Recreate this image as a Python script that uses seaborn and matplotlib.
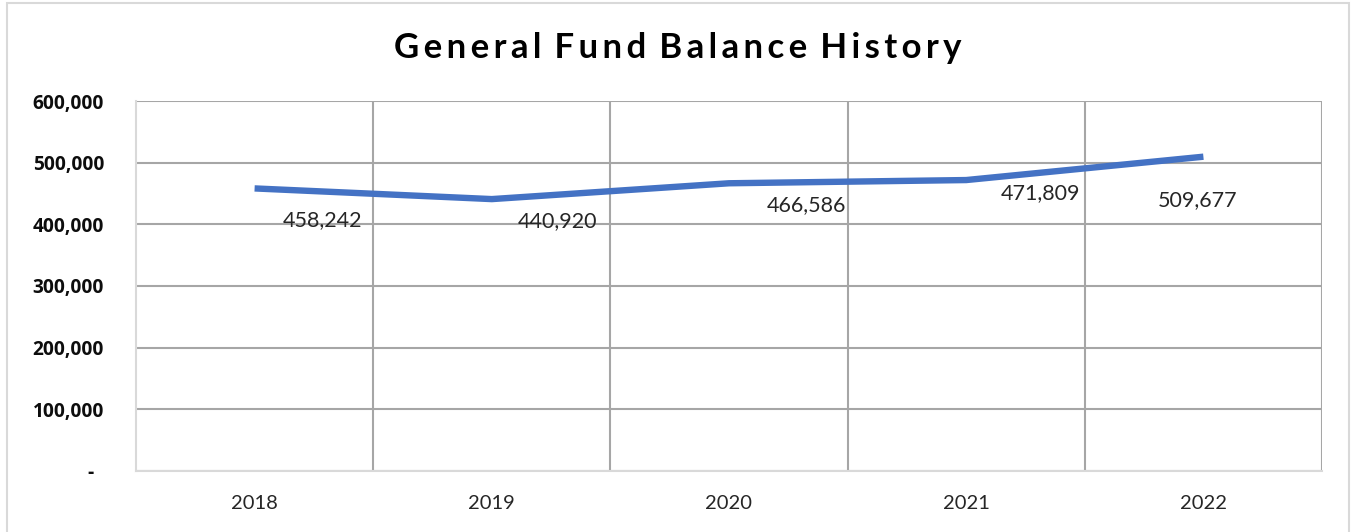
import matplotlib
matplotlib.use("Agg")
import matplotlib.pyplot as plt
import seaborn as sns
import pandas as pd
from matplotlib.ticker import FuncFormatter, MultipleLocator
from matplotlib.patches import Rectangle

years = ["2018", "2019", "2020", "2021", "2022"]
balances = [458242, 440920, 466586, 471809, 509677]
title = "General Fund Balance History"

# label offsets in pixels (dx, dy) relative to each point, style only
label_offsets = [(68, -32), (66, -22), (77, -22), (74, -13), (-6, -43)]

sns.set_theme(style="white")
plt.rcParams["font.family"] = ["Lato", "DejaVu Sans"]

fig = plt.figure(figsize=(13.56, 5.32), dpi=100)
ax = fig.add_axes([136/1356, 61/532, (1322-136)/1356, (471-101)/532])

df = pd.DataFrame({"year": years, "balance": balances})
sns.lineplot(data=df, x="year", y="balance", ax=ax, color="#4472C4",
             linewidth=4.6, sort=False, solid_capstyle="butt")

ax.set_xlim(-0.5, len(years) - 0.5)
ax.set_ylim(0, 600000)
ax.yaxis.set_major_locator(MultipleLocator(100000))

def yfmt(v, pos):
    if v == 0:
        return "-  "
    return f"{int(v):,}"
ax.yaxis.set_major_formatter(FuncFormatter(yfmt))

# horizontal gridlines
ax.grid(axis="y", color="#A6A6A6", linewidth=1.5)
# vertical gridlines at category boundaries
for b in [i + 0.5 for i in range(len(years))]:
    ax.axvline(b, color="#A6A6A6", linewidth=1.5, zorder=0.5)

for s in ["top", "right"]:
    ax.spines[s].set_visible(False)
for s in ["left", "bottom"]:
    ax.spines[s].set_color("#D9D9D9")
    ax.spines[s].set_linewidth(1.5)

ax.set_xlabel("")
ax.set_ylabel("")
ax.tick_params(axis="y", length=0, pad=23, labelsize=13.8)
ax.tick_params(axis="x", length=0, pad=17, labelsize=14.5, labelcolor="#262626")
for t in ax.get_yticklabels():
    t.set_fontweight("bold")
    t.set_family(["Open Sans", "DejaVu Sans"])
    t.set_color("#0d0d0d")

for i, (y, v) in enumerate(zip(years, balances)):
    dx, dy = label_offsets[i]
    ax.annotate(f"{v:,}", xy=(i, v), xytext=(dx * 0.72, dy * 0.72),
                textcoords="offset points", ha="center", va="center",
                fontsize=15.5, color="#262626")

spaced = "\u2009".join(list(title)).replace("\u2009 \u2009", "\u2009\u2009\u2009")
fig.text(0.5, 1 - 48/532, spaced, ha="center", va="center",
         fontsize=25, fontweight="bold", color="#000000",
         family=["Lato", "DejaVu Sans"])

# outer chart border
fig.patches.append(Rectangle((7/1356, -0.05), (1349-7)/1356, 1.05 - 3/532,
                             transform=fig.transFigure, fill=False,
                             edgecolor="#D9D9D9", linewidth=1.5))

fig.savefig("out.png", dpi=100)
